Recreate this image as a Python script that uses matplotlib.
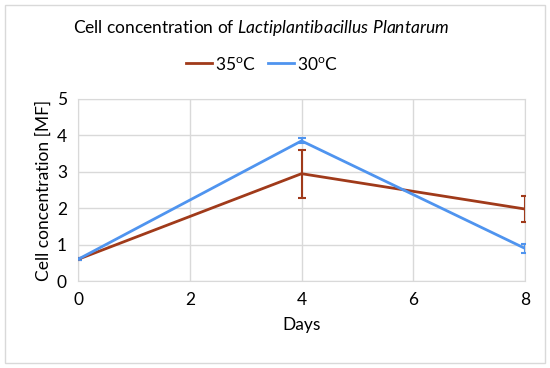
import matplotlib.pyplot as plt
from matplotlib.patches import Rectangle
from matplotlib.lines import Line2D

plt.rcParams['font.family'] = ['Lato', 'DejaVu Sans']
plt.rcParams['mathtext.fontset'] = 'custom'
plt.rcParams['mathtext.rm'] = 'Lato'
plt.rcParams['mathtext.it'] = 'Lato:italic'

# data
days = [0, 4, 8]
conc_35 = [0.6, 2.95, 1.98]
err_35 = [0.03, 0.66, 0.37]
conc_30 = [0.6, 3.85, 0.9]
err_30 = [0.03, 0.07, 0.12]
labels = ['35$^{\\mathrm{o}}$C', '30$^{\\mathrm{o}}$C']

red = '#A03A1A'
blue = '#4F94EF'

fig = plt.figure(figsize=(5.5, 3.68), dpi=100)
ax = fig.add_axes([0.142, 0.236, 0.8125, 0.495])

ax.errorbar(days, conc_35, yerr=err_35, color=red, lw=2, capsize=3,
            elinewidth=1.5, capthick=1.5, zorder=3)
ax.errorbar(days, conc_30, yerr=err_30, color=blue, lw=2, capsize=3,
            elinewidth=1.5, capthick=1.5, zorder=3)

ax.set_xlim(0, 8)
ax.set_ylim(0, 5)
ax.set_xticks([0, 2, 4, 6, 8])
ax.set_yticks([0, 1, 2, 3, 4, 5])
ax.grid(True, color='#d9d9d9', lw=1)
ax.set_axisbelow(True)
for s in ax.spines.values():
    s.set_color('#d9d9d9')
ax.tick_params(length=0, labelsize=12.5, pad=8)

ax.set_xlabel('Days', fontsize=12.5, labelpad=6)
ax.set_ylabel('Cell concentration [MF]', fontsize=12.5, labelpad=4)

fig.text(0.475, 0.925, 'Cell concentration of $\\it{Lactiplantibacillus\\ Plantarum}$',
         ha='center', va='center', fontsize=12.5)
handles = [Line2D([], [], color=red, lw=2), Line2D([], [], color=blue, lw=2)]
fig.legend(handles, labels, loc='center', bbox_to_anchor=(0.476, 0.826), ncol=2,
           frameon=False, fontsize=12.5, handlelength=1.5, columnspacing=0.7,
           handletextpad=0.15)

fig.add_artist(Rectangle((0.009, 0.014), 0.982, 0.972, transform=fig.transFigure,
                         fill=False, edgecolor='#d9d9d9', lw=1))

fig.savefig('out.png', dpi=100)
